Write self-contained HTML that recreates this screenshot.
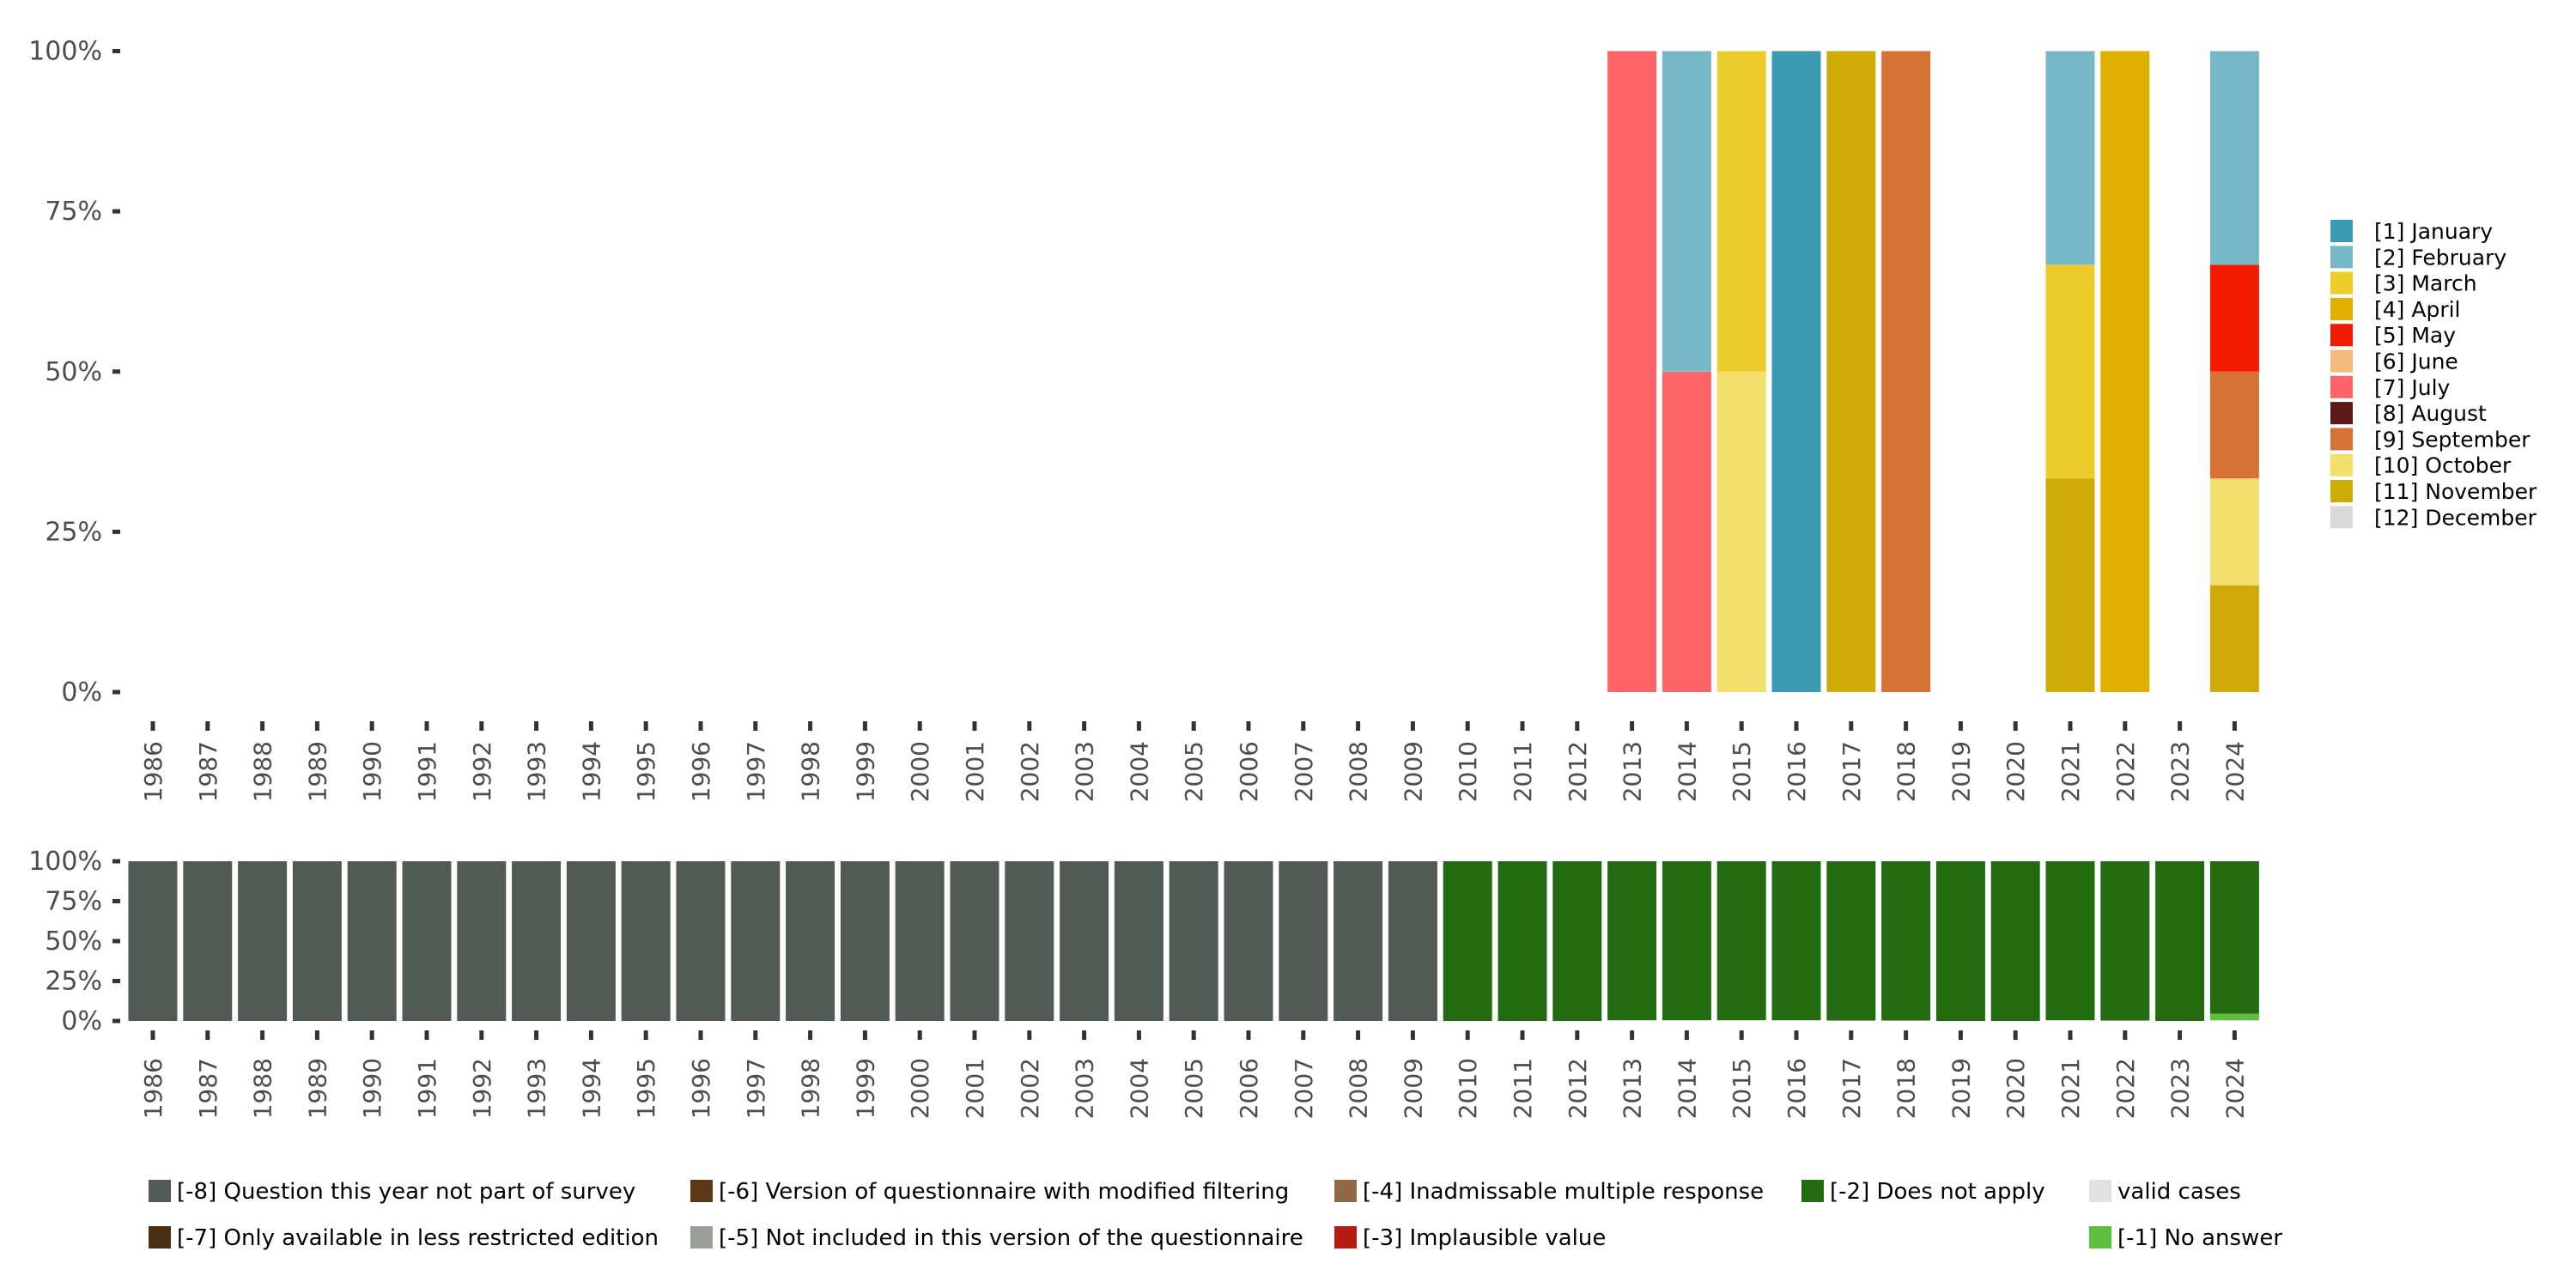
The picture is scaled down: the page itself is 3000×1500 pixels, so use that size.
<!DOCTYPE html>
<html><head><meta charset="utf-8"><style>
body{margin:0;background:#fff;}
svg{display:block;font-family:"DejaVu Sans","Liberation Sans",sans-serif;}
</style></head><body>
<svg id="c" width="3000" height="1500" viewBox="0 0 3000 1500"></svg>
<script>
const years=[];for(let y=1986;y<=2024;y++)years.push(y);
const months=["[1] January","[2] February","[3] March","[4] April","[5] May","[6] June","[7] July","[8] August","[9] September","[10] October","[11] November","[12] December"];
const monthColors=["#3b9ab2","#78b7c5","#ebcc2a","#e1af00","#f21a00","#f2bb7b","#fd6467","#5b1a18","#d67236","#f3df6c","#cfab07","#d9d9d9"];
const topYears=[2013,2014,2014,2015,2015,2016,2017,2018,2021,2021,2021,2022,2024,2024,2024,2024,2024];
const topMonths=[7,2,7,3,10,1,11,9,2,3,11,4,2,5,9,10,11];
const topShares=[1,0.5,0.5,0.5,0.5,1,1,1,1/3,1/3,1/3,1,2/6,1/6,1/6,1/6,1/6];
const missLabels=["[-8] Question this year not part of survey","[-6] Version of questionnaire with modified filtering","[-4] Inadmissable multiple response","[-2] Does not apply","valid cases","[-7] Only available in less restricted edition","[-5] Not included in this version of the questionnaire","[-3] Implausible value","","[-1] No answer"];
const missColors=["#525a55","#5b3915","#8f6a44","#236b10","#e0e3e0","#4a2f17","#999e96","#b51b12",null,"#5dbf3c"];
const q8=[1,1,1,1,1,1,1,1,1,1,1,1,1,1,1,1,1,1,1,1,1,1,1,1,0,0,0,0,0,0,0,0,0,0,0,0,0,0,0];
const dna=[0,0,0,0,0,0,0,0,0,0,0,0,0,0,0,0,0,0,0,0,0,0,0,0,1,1,1,0.995,0.995,0.995,0.995,0.997,0.997,1,1,0.995,0.997,1,0.955];
const noAns=[0,0,0,0,0,0,0,0,0,0,0,0,0,0,0,0,0,0,0,0,0,0,0,0,0,0,0,0,0,0,0,0,0,0,0,0,0,0,0.04];
const valid=[0,0,0,0,0,0,0,0,0,0,0,0,0,0,0,0,0,0,0,0,0,0,0,0,0,0,0,0.005,0.005,0.005,0.005,0.003,0.003,0,0,0.005,0.003,0,0.005];
const yTicks=[0,0.25,0.5,0.75,1];
const yTickLabels=["0%","25%","50%","75%","100%"];

const NS="http://www.w3.org/2000/svg";
const svg=document.getElementById('c');
function el(t,a,p){const e=document.createElementNS(NS,t);for(const k in a)e.setAttribute(k,a[k]);(p||svg).appendChild(e);return e;}
const x=y=>178+(y-1986)*63.8;
const bw=57;
const yTop=v=>806-v*(806-59.5);
const yBot=v=>1189-v*(1189-1003);

function axes(yf,tickY,labY,grp){
  yTicks.forEach((t,i)=>{
    const l=el('rect',{x:131,y:yf(t)-2.5,width:9,height:5,fill:'#333'},grp);
    
    const tx=el('text',{x:119,y:yf(t)+10,'text-anchor':'end','font-size':30,fill:'#4d4d4d'},grp);
    tx.textContent=yTickLabels[i];
    
  });
  years.forEach(yr=>{
    const t=el('rect',{x:x(yr)-2.5,y:tickY,width:5,height:11,fill:'#333'},grp);
    
    const tx=el('text',{transform:`translate(${x(yr)+10},${labY}) rotate(-90)`,'text-anchor':'end','font-size':28,fill:'#4d4d4d'},grp);
    tx.textContent=yr;
    
  });
}
const gTop=el('g',{});

const gBot=el('g',{});

axes(yTop,840,863,gTop);
axes(yBot,1200,1232,gBot);

years.forEach(yr=>{
  let cum=0;
  for(let m=12;m>=1;m--){
    topYears.forEach((ty,i)=>{
      if(ty===yr&&topMonths[i]===m){
        const v=topShares[i];
        const r=el('rect',{x:x(yr)-bw/2,y:yTop(cum+v),width:bw,height:yTop(cum)-yTop(cum+v),fill:monthColors[m-1]},gTop);
        
        
        cum+=v;
      }
    });
  }
});
years.forEach((yr,i)=>{
  const segs=[[valid[i],missColors[4]],[noAns[i],missColors[9]],[dna[i],missColors[3]],[q8[i],missColors[0]]];
  let cum=0;
  segs.forEach(([v,c],j)=>{
    if(v<=0)return;
    const r=el('rect',{x:x(yr)-bw/2,y:yBot(cum+v),width:bw,height:yBot(cum)-yBot(cum+v),fill:c},gBot);
    
    
    cum+=v;
  });
});
months.forEach((m,i)=>{
  const yy=256+i*30.3;
  const s=el('rect',{x:2714,y:yy,width:26,height:26,fill:monthColors[i]});
  
  const t=el('text',{x:2765,y:yy+22,'font-size':25,fill:'#000'});
  t.textContent=m;
  
});
const colX=[173,804,1554,2098,2433];
missLabels.forEach((lab,i)=>{
  const c=missColors[i];if(!c)return;
  const cx=colX[i%5],yy=i<5?1374:1428;
  const s=el('rect',{x:cx,y:yy,width:26,height:26,fill:c});
  
  const t=el('text',{x:cx+33,y:yy+22,'font-size':26,fill:'#000'});
  t.textContent=lab;
  
});
</script>
</body></html>
